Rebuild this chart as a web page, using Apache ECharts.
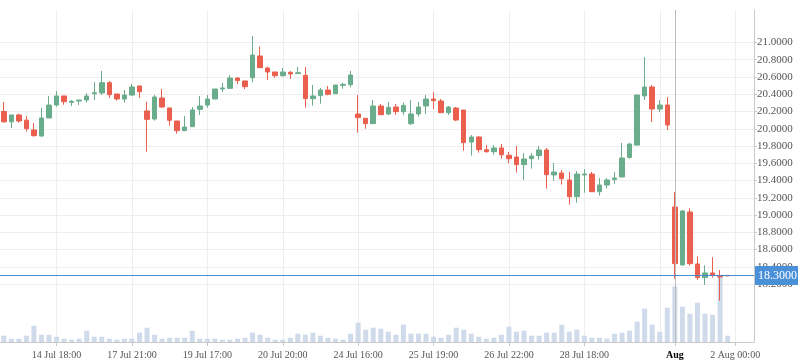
<!DOCTYPE html>
<html><head><meta charset="utf-8">
<script src="https://cdn.jsdelivr.net/npm/echarts@6/dist/echarts.min.js"></script>
<style>html,body{margin:0;padding:0;background:#fff}#c{width:798px;height:363px}</style>
</head><body><div id="c"></div>
<script>
const categories = [
 '13 Jul 21:00','14 Jul 00:00','14 Jul 03:00','14 Jul 06:00','14 Jul 09:00','14 Jul 12:00','14 Jul 15:00','14 Jul 18:00','14 Jul 21:00','16 Jul 21:00',
 '17 Jul 00:00','17 Jul 03:00','17 Jul 06:00','17 Jul 09:00','17 Jul 12:00','17 Jul 15:00','17 Jul 18:00','17 Jul 21:00','18 Jul 02:00','18 Jul 07:00',
 '18 Jul 12:00','18 Jul 17:00','18 Jul 22:00','19 Jul 02:00','19 Jul 06:00','19 Jul 10:00','19 Jul 14:00','19 Jul 17:00','19 Jul 20:00','19 Jul 23:00',
 '20 Jul 02:00','20 Jul 05:00','20 Jul 08:00','20 Jul 11:00','20 Jul 14:00','20 Jul 16:00','20 Jul 18:00','20 Jul 20:00','20 Jul 23:00','21 Jul 02:00',
 '21 Jul 06:00','21 Jul 10:00','21 Jul 14:00','21 Jul 18:00','23 Jul 22:00','24 Jul 04:00','24 Jul 10:00','24 Jul 16:00','24 Jul 19:00','24 Jul 22:00',
 '25 Jul 01:00','25 Jul 04:00','25 Jul 07:00','25 Jul 10:00','25 Jul 13:00','25 Jul 15:00','25 Jul 17:00','25 Jul 19:00','25 Jul 22:00','26 Jul 01:00',
 '26 Jul 04:00','26 Jul 07:00','26 Jul 10:00','26 Jul 13:00','26 Jul 16:00','26 Jul 18:00','26 Jul 20:00','26 Jul 22:00','27 Jul 02:00','27 Jul 06:00',
 '27 Jul 10:00','27 Jul 14:00','27 Jul 18:00','27 Jul 22:00','28 Jul 04:00','28 Jul 09:00','28 Jul 14:00','28 Jul 18:00','28 Jul 21:00','30 Jul 18:00',
 '30 Jul 21:00','31 Jul 00:00','31 Jul 03:00','31 Jul 06:00','31 Jul 09:00','31 Jul 12:00','31 Jul 15:00','31 Jul 18:00','31 Jul 21:00','1 Aug 00:00',
 '1 Aug 03:00','1 Aug 06:00','1 Aug 09:00','1 Aug 12:00','1 Aug 15:00','1 Aug 18:00','1 Aug 21:00','2 Aug 00:00','2 Aug 03:00','2 Aug 06:00'
];
const tickLabels = ['14 Jul 18:00','17 Jul 21:00','19 Jul 17:00','20 Jul 20:00','24 Jul 16:00','25 Jul 19:00','26 Jul 22:00','28 Jul 18:00','1 Aug 00:00','2 Aug 00:00'];
const gridLabels = ['14 Jul 18:00','17 Jul 21:00','19 Jul 17:00','20 Jul 20:00','24 Jul 16:00','25 Jul 19:00','26 Jul 22:00','28 Jul 18:00','31 Jul 18:00','2 Aug 00:00'];
const monthStart = '1 Aug 00:00';
const monthLabel = 'Aug';
const cursorCategory = '1 Aug 00:00';
const lastPrice = 18.3;

const opens = [20.20,20.08,20.16,20.10,19.986,19.916,20.125,20.275,20.38,20.306,
 20.322,20.333,20.407,20.415,20.534,20.403,20.345,20.391,20.496,20.206,
 20.113,20.357,20.241,20.09,19.978,20.024,20.225,20.275,20.345,20.461,
 20.469,20.588,20.554,20.592,20.844,20.704,20.658,20.615,20.654,20.639,
 20.619,20.349,20.384,20.449,20.407,20.503,20.511,20.171,20.121,20.059,
 20.264,20.171,20.252,20.198,20.059,20.171,20.264,20.345,20.322,20.186,
 20.24,20.217,19.846,19.904,19.757,19.734,19.777,19.692,19.672,19.584,
 19.653,19.688,19.754,19.464,19.487,19.406,19.212,19.464,19.475,19.27,
 19.348,19.41,19.441,19.668,19.811,20.38,20.484,20.229,20.275,19.093,
 18.421,19.035,18.432,18.274,18.328,18.30,18.30];
const closes = [20.08,20.16,20.09,20.00,19.92,20.125,20.275,20.38,20.314,20.318,
 20.333,20.38,20.418,20.534,20.395,20.345,20.391,20.484,20.43,20.109,
 20.368,20.252,20.098,19.978,20.02,20.218,20.264,20.345,20.461,20.473,
 20.588,20.558,20.488,20.855,20.708,20.658,20.615,20.658,20.635,20.65,
 20.349,20.38,20.449,20.399,20.507,20.515,20.623,20.129,20.059,20.264,
 20.163,20.248,20.198,20.271,20.171,20.252,20.345,20.326,20.186,20.252,
 20.101,19.839,19.904,19.757,19.734,19.777,19.699,19.653,19.584,19.649,
 19.684,19.754,19.468,19.498,19.421,19.212,19.475,19.475,19.27,19.348,
 19.406,19.429,19.661,19.823,20.391,20.484,20.229,20.275,20.043,18.436,
 19.047,18.436,18.274,18.328,18.305,18.282,18.295];
const lows = [20.07,20.01,20.07,19.966,19.908,19.908,20.125,20.256,20.279,20.264,
 20.275,20.303,20.333,20.391,20.357,20.326,20.303,20.38,20.357,19.734,
 20.094,20.241,20.036,19.943,19.978,20.024,20.16,20.245,20.345,20.426,
 20.461,20.519,20.461,20.538,20.708,20.565,20.592,20.604,20.577,20.639,
 20.245,20.268,20.291,20.388,20.403,20.465,20.48,19.955,20.0,20.059,
 20.163,20.16,20.159,20.159,20.043,20.14,20.171,20.229,20.186,20.159,
 20.09,19.746,19.688,19.723,19.723,19.699,19.653,19.599,19.491,19.406,
 19.537,19.642,19.305,19.398,19.352,19.12,19.143,19.259,19.27,19.224,
 19.305,19.359,19.433,19.653,19.811,20.333,20.078,20.194,19.985,18.262,
 18.413,18.413,18.247,18.189,18.274,18.006,18.29];
const highs = [20.31,20.16,20.175,20.148,20.067,20.241,20.38,20.438,20.38,20.333,
 20.333,20.411,20.542,20.67,20.554,20.403,20.449,20.519,20.496,20.314,
 20.391,20.461,20.241,20.09,20.148,20.252,20.38,20.391,20.461,20.531,
 20.623,20.60,20.554,21.075,20.952,20.72,20.658,20.704,20.67,20.716,
 20.716,20.507,20.473,20.496,20.507,20.534,20.67,20.391,20.121,20.333,
 20.287,20.31,20.287,20.302,20.333,20.31,20.391,20.426,20.345,20.264,
 20.252,20.217,19.927,19.916,19.812,19.812,19.823,19.73,19.80,19.719,
 19.719,19.80,19.777,19.603,19.522,19.499,19.51,19.533,19.499,19.429,
 19.429,19.499,19.835,19.835,20.391,20.832,20.507,20.333,20.368,19.267,
 19.054,19.078,18.521,18.417,18.51,18.362,18.30];
const volumes = [63,33,33,63,163,73,73,53,33,23,
 33,113,53,53,33,23,33,33,93,143,
 73,33,43,43,43,113,33,33,33,23,
 23,33,43,93,73,43,23,23,43,83,
 73,93,63,43,33,23,83,193,123,143,
 133,103,73,173,83,83,83,53,43,73,
 143,123,83,53,33,43,73,153,103,113,
 63,63,93,93,173,103,123,63,43,43,
 33,83,93,113,203,333,173,103,343,557,
 353,283,393,283,273,660,63];

const candles = opens.map((o, i) => [o, closes[i], lows[i], highs[i]]);
const labelSet = new Set(tickLabels);
const gridSet = new Set(gridLabels);
const FONT = '"Liberation Serif","Times New Roman",serif';
const upColor = '#6aad8c', downColor = '#ea5f4e';

const chart = echarts.init(document.getElementById('c'), null, {renderer: 'canvas'});
chart.setOption({
  animation: false,
  backgroundColor: '#ffffff',
  grid: [
    {left: 0, right: 44, top: 42.5, bottom: 79},
    {left: 0, right: 44, top: 10, bottom: 21}
  ],
  xAxis: [
    {type: 'category', gridIndex: 0, data: categories, boundaryGap: true, show: false},
    {type: 'category', gridIndex: 1, data: categories, boundaryGap: true,
     axisLine: {show: true, lineStyle: {color: '#c8c8c8'}},
     axisTick: {show: true, interval: (i, v) => labelSet.has(v), alignWithLabel: true, length: 4, lineStyle: {color: '#c8c8c8'}},
     axisLabel: {interval: (i, v) => labelSet.has(v),
       formatter: v => v === monthStart ? '{m|' + monthLabel + '}' : v,
       color: '#555', fontFamily: FONT, fontSize: 10, margin: 8,
       rich: {m: {fontWeight: 'bold', color: '#000', fontFamily: FONT, fontSize: 10}}},
     splitLine: {show: true, interval: (i, v) => gridSet.has(v), alignWithLabel: true, lineStyle: {color: '#eeeeee', width: 1}}
    }
  ],
  yAxis: [
    {type: 'value', gridIndex: 0, position: 'right', min: 18.2, max: 21.0, interval: 0.2,
     axisLine: {show: false},
     axisTick: {show: true, length: 3, lineStyle: {color: '#c8c8c8'}},
     axisLabel: {formatter: v => v.toFixed(4), color: '#555', fontFamily: FONT, fontSize: 11, margin: 3},
     splitLine: {show: true, lineStyle: {color: '#eeeeee', width: 1}}},
    {type: 'value', gridIndex: 1, position: 'right', min: 0, max: 3320,
     axisLine: {show: true, lineStyle: {color: '#c8c8c8'}},
     axisTick: {show: false}, axisLabel: {show: false}, splitLine: {show: false}}
  ],
  series: [
    {type: 'bar', xAxisIndex: 1, yAxisIndex: 1, data: volumes, barWidth: 5, silent: true,
     itemStyle: {color: '#cfdbeb'},
     markLine: {symbol: 'none', silent: true, label: {show: false},
       lineStyle: {color: '#bdbdbd', type: 'solid', width: 1},
       data: [{xAxis: cursorCategory}]}},
    {type: 'candlestick', xAxisIndex: 0, yAxisIndex: 0, data: candles, barWidth: 5, clip: false,
     itemStyle: {color: upColor, color0: downColor, borderColor: upColor, borderColor0: downColor, borderWidth: 1},
     markLine: {symbol: 'none', silent: true, data: [{yAxis: lastPrice}],
       lineStyle: {color: '#4a8ad0', type: 'solid', width: 1},
       label: {show: true, position: 'end', formatter: lastPrice.toFixed(4), backgroundColor: '#4a90d9',
         color: '#fff', padding: [4, 3, 3, 3], fontFamily: FONT, fontSize: 12, distance: 1}}}
  ]
});
</script></body></html>
